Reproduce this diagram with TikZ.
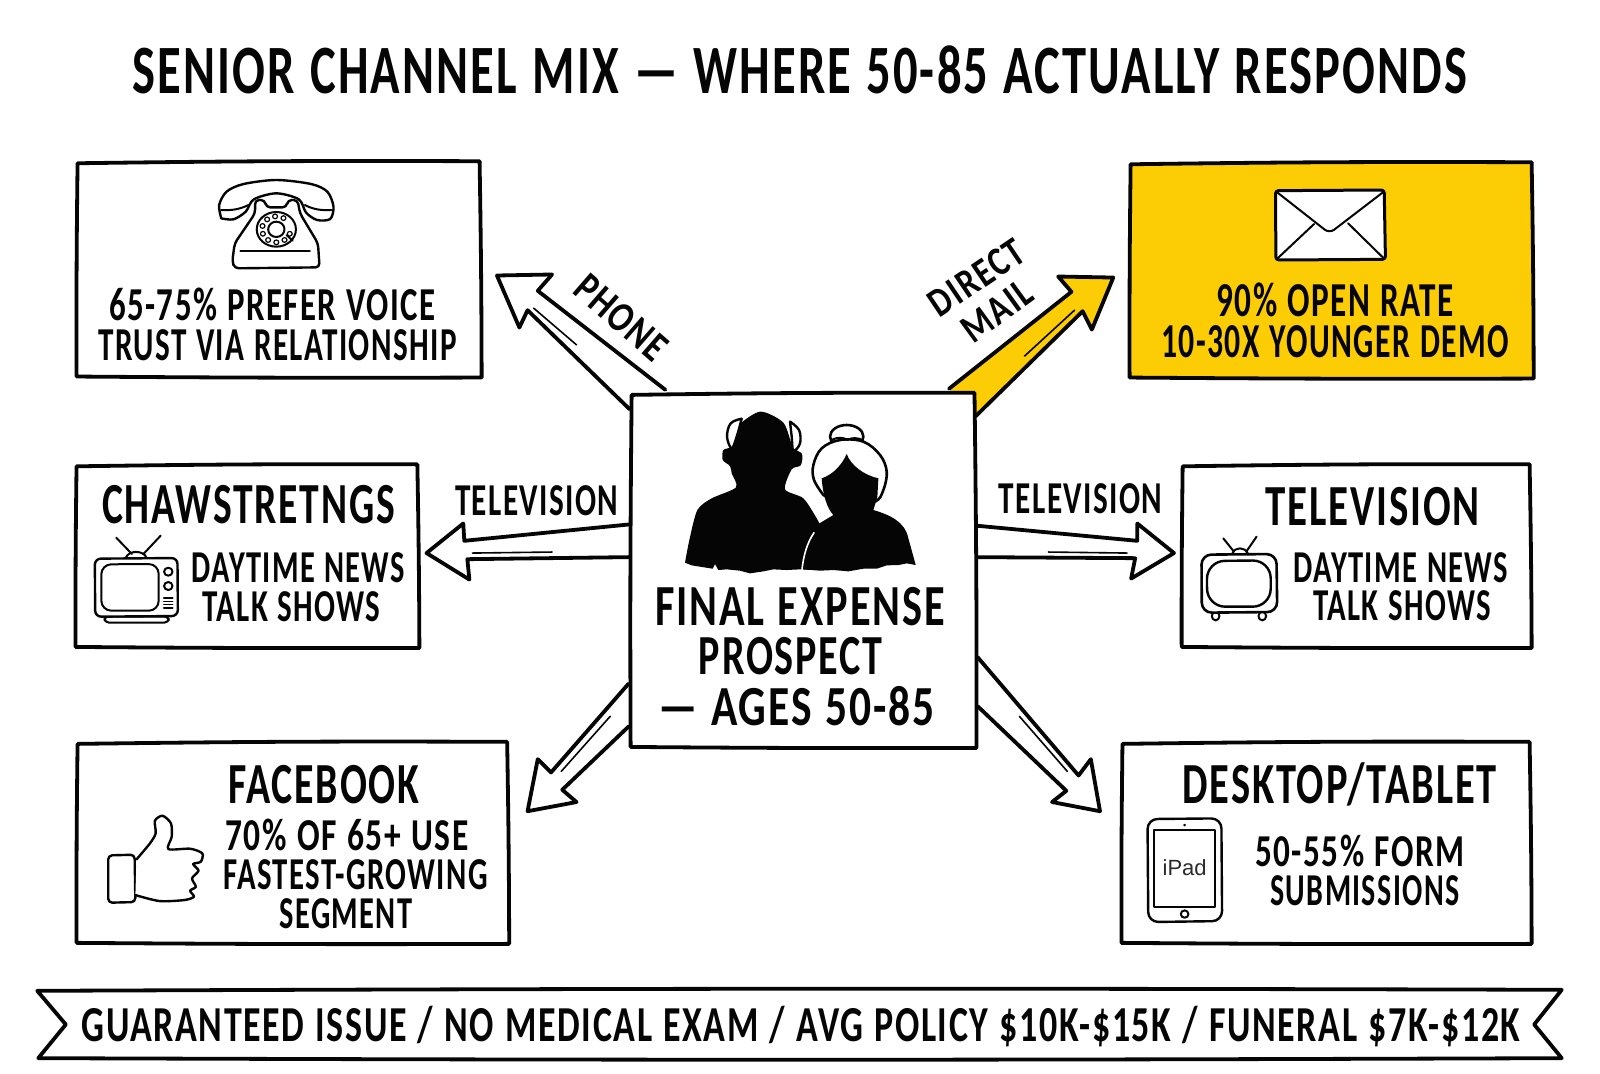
\documentclass[tikz,border=0pt]{standalone}
\usepackage{fontspec}
\usepackage{graphicx}
\usetikzlibrary{calc}
\newfontfamily\hand[LetterSpace=4.5,WordSpace=1.15]{Carlito}
\newfontfamily\plainsans{Liberation Sans}
\definecolor{inkyellow}{HTML}{FCCD05}
\definecolor{inkblack}{HTML}{050505}

% one drawing unit of the picture
\newlength{\uu}
\setlength{\uu}{0.5102pt}

% a line of lettering whose box is exactly as tall as its capitals
\newcommand\capbox[1]{\sbox0{\hand\bfseries H}\raisebox{0pt}[\ht0][0pt]{\hand\bfseries #1}}
% [rotation]{name}{x}{y}{width}{cap height}{text}
\newcommand\ink[7][0]{\node[inktext,rotate=#1] (#2) at (#3,#4) {\resizebox{#5\uu}{#6\uu}{\capbox{#7}}};}
% hand-ruled outline round a slot node
\newcommand\sketchbox[2]{%
  \draw[boxline,fill=#2]
    ($(#1.north west)+(1,2)$) to[bend left=.5] ($(#1.north east)+(-1,0)$)
    to[bend left=.4] ($(#1.south east)+(1,0)$)
    to[bend left=.3] ($(#1.south west)+(0,-1)$)
    to[bend left=.4] cycle;}

\tikzset{
  slot/.style={inner sep=0pt,outer sep=0pt,draw=none,fill=none},
  inktext/.style={inner sep=0pt,outer sep=0pt,text=inkblack},
  boxline/.style={draw=inkblack,line width=1.9pt,line join=round,line cap=round},
  arrowline/.style={draw=inkblack,line width=1.9pt,line join=round,line cap=round,fill=white},
  sheen/.style={draw=inkblack,line width=.8pt,line cap=round},
  iconline/.style={draw=inkblack,line width=1pt,line join=round,line cap=round},
  iconthin/.style={draw=inkblack,line width=.6pt,line cap=round},
}

\begin{document}
\begin{tikzpicture}[x=\uu,y=-\uu]
\useasboundingbox (0,0) rectangle (1568,1051.6);
\fill[white] (0,0) rectangle (1568,1051.6);

% layout slots for the hub and the six channels
\node[slot,minimum width=338\uu,minimum height=348\uu] (hub) at (787,559) {};
\node[slot,minimum width=396\uu,minimum height=212\uu] (phone) at (273,264) {};
\node[slot,minimum width=395\uu,minimum height=212\uu] (mail) at (1304.5,265) {};
\node[slot,minimum width=336\uu,minimum height=180\uu] (chaw) at (242,545) {};
\node[slot,minimum width=342\uu,minimum height=180\uu] (tv) at (1329,545) {};
\node[slot,minimum width=423\uu,minimum height=198\uu] (fb) at (286.5,826) {};
\node[slot,minimum width=401\uu,minimum height=198\uu] (tablet) at (1299.5,826) {};

% block arrows leaving the hub
\coordinate (phoneA) at ($(hub.north west)+(34,-3)$);
\coordinate (phoneB) at ($(hub.north west)+(-1,16)$);
\coordinate (phoneTip) at ($(phone.north east)+(16,112)$);
\draw[arrowline] (phoneA) -- ($(phoneTip)+(40,15)$) -- ($(phoneTip)+(54,-1)$) -- (phoneTip)
  -- ($(phoneTip)+(22,51)$) -- ($(phoneTip)+(30,34)$) -- (phoneB);
\draw[sheen] ($(phoneTip)+(36,32)$) -- ($(phoneTip)+(78,68)$);

\coordinate (mailA) at ($(hub.north east)+(-26,-4)$);
\coordinate (mailB) at ($(hub.north east)+(0,23)$);
\coordinate (mailTip) at ($(mail.north west)+(-16,113)$);
\draw[arrowline,fill=inkyellow] (mailA) -- ($(mailTip)+(-41,14)$) -- ($(mailTip)+(-54,-1)$) -- (mailTip)
  -- ($(mailTip)+(-21,51)$) -- ($(mailTip)+(-30,33)$) -- (mailB);
\draw[sheen] ($(mailTip)+(-87,77)$) -- ($(mailTip)+(-38,32)$);

\coordinate (leftA) at ($(hub.west)+(-2,-45)$);
\coordinate (leftB) at ($(hub.west)+(-2,-13)$);
\coordinate (leftTip) at ($(chaw.east)+(8,-3)$);
\draw[arrowline] (leftA) -- ($(leftTip)+(37,-12)$) -- ($(leftTip)+(36,-29)$) -- (leftTip)
  -- ($(leftTip)+(42,26)$) -- ($(leftTip)+(40,6)$) -- (leftB);
\draw[sheen] ($(leftTip)+(45,0)$) -- ($(leftTip)+(123,-1)$);

\coordinate (rightA) at ($(hub.east)+(-1,-44)$);
\coordinate (rightB) at ($(hub.east)+(-1,-13)$);
\coordinate (rightTip) at ($(tv.west)+(-7.5,-3)$);
\draw[arrowline] (rightA) -- ($(rightTip)+(-36,-12)$) -- ($(rightTip)+(-36,-29)$) -- (rightTip)
  -- ($(rightTip)+(-42,25)$) -- ($(rightTip)+(-38,5)$) -- (rightB);
\draw[sheen] ($(rightTip)+(-123,-1)$) -- ($(rightTip)+(-46,0)$);

\coordinate (fbA) at ($(hub.west)+(-2,111)$);
\coordinate (fbB) at ($(hub.west)+(-2,153)$);
\coordinate (fbTip) at ($(fb.north east)+(19,68)$);
\draw[arrowline] (fbA) -- ($(fbTip)+(23,-38)$) -- ($(fbTip)+(10,-51)$) -- (fbTip)
  -- ($(fbTip)+(48,-9)$) -- ($(fbTip)+(34,-21)$) -- (fbB);
\draw[sheen] ($(fbTip)+(81,-93)$) -- ($(fbTip)+(33,-39)$);

\coordinate (tabA) at ($(hub.east)+(2,85)$);
\coordinate (tabB) at ($(hub.east)+(2,133)$);
\coordinate (tabTip) at ($(tablet.north west)+(-21,68)$);
\draw[arrowline] (tabA) -- ($(tabTip)+(-21,-35)$) -- ($(tabTip)+(-9,-51)$) -- (tabTip)
  -- ($(tabTip)+(-47,-9)$) -- ($(tabTip)+(-33,-20)$) -- (tabB);
\draw[sheen] ($(tabTip)+(-79,-93)$) -- ($(tabTip)+(-32,-39)$);

% framed panels
\sketchbox{phone}{white}
\sketchbox{mail}{inkyellow}
\sketchbox{chaw}{white}
\sketchbox{tv}{white}
\sketchbox{fb}{white}
\sketchbox{tablet}{white}
\sketchbox{hub}{white}

% ribbon along the bottom
\node[slot,minimum width=1494\uu,minimum height=66\uu] (ribbon) at (783.5,1004) {};
\draw[boxline,fill=white]
  ($(ribbon.north west)+(0,0)$) to[bend left=.2] ($(ribbon.north east)+(0,-1)$)
  -- ($(ribbon.east)+(-27,0)$) -- ($(ribbon.south east)+(0,0)$)
  to[bend left=.2] ($(ribbon.south west)+(1,0)$) -- ($(ribbon.west)+(28,0)$) -- cycle;

% lettering
\ink{title}{784}{70}{1308}{44}{SENIOR CHANNEL MIX — WHERE 50-85 ACTUALLY RESPONDS}
\ink{pA}{267}{299}{320}{30}{65-75\% PREFER VOICE}
\ink{pB}{272}{338}{351}{30}{TRUST VIA RELATIONSHIP}
\ink{mA}{1308.5}{295}{233}{31}{90\% OPEN RATE}
\ink{mB}{1308.5}{335}{341}{31}{10-30X YOUNGER DEMO}
\ink{cA}{243.5}{495}{287}{37}{CHAWSTRETNGS}
\ink{cB}{292.5}{556}{209}{29}{DAYTIME NEWS}
\ink{cC}{285.5}{595}{175}{29}{TALK SHOWS}
\ink{tA}{1345}{496}{210}{37}{TELEVISION}
\ink{tB}{1373}{556}{210}{29}{DAYTIME NEWS}
\ink{tC}{1374}{594}{174}{29}{TALK SHOWS}
\ink{tvL}{526}{491}{160}{29}{TELEVISION}
\ink{tvR}{1059}{489}{160}{29}{TELEVISION}
\ink{fA}{317.5}{769}{187}{37}{FACEBOOK}
\ink{fB}{340}{819}{238}{29}{70\% OF 65+ USE}
\ink{fC}{348.5}{857.5}{259}{29}{FASTEST-GROWING}
\ink{fD}{339}{895}{130}{29}{SEGMENT}
\ink{dA}{1313}{769}{308}{37}{DESKTOP/TABLET}
\ink{dB}{1332.5}{835}{205}{29}{50-55\% FORM}
\ink{dC}{1337.5}{873}{185}{29}{SUBMISSIONS}
\ink{hA}{784}{594}{284}{37}{FINAL EXPENSE}
\ink{hB}{775}{643}{180}{36}{PROSPECT}
\ink{hC}{780.5}{692.5}{271}{36}{— AGES 50-85}
\ink{bn}{785}{1005}{1410}{32}{GUARANTEED ISSUE / NO MEDICAL EXAM / AVG POLICY \$10K-\$15K / FUNERAL \$7K-\$12K}
\ink[-41]{lbPhone}{609}{311}{106}{27}{PHONE}
\ink[34]{lbDirect}{957}{272}{104}{26}{DIRECT}
\ink[36]{lbMail}{977}{305}{76}{26}{MAIL}

% rotary telephone
\begin{scope}[shift={(58.8,147)},xscale=.4,yscale=.3267]
  \draw[iconline,line width=1.2pt,fill=white] plot[smooth,tension=.5] coordinates
    {(395,205)(390,165)(408,125)(450,102)(530,90)(615,102)(655,125)(670,170)(662,207)(630,210)(603,188)(585,148)(530,130)(475,148)(455,185)(425,208)(395,205)};
  \draw[iconline] (395,180) .. controls (420,182) and (440,178) .. (462,165);
  \draw[iconline] (665,180) .. controls (640,182) and (620,178) .. (600,165);
  \draw[iconline,line width=1.2pt,fill=white,rounded corners=2pt]
    (478,150) -- (502,150) -- (505,172) -- (555,172) -- (558,150) -- (582,150)
    -- (588,190) -- (632,280) -- (636,352) -- (428,355) -- (422,335) -- (428,280) -- (478,190) -- cycle;
  \draw[iconline] (530,238) ellipse [x radius=48,y radius=52];
  \draw[iconline] (530,238) ellipse [x radius=20,y radius=23];
  \foreach \a in {60,95,130,165,200,235,270,305,340}
    \draw[iconthin] ($(530,238)+({35*cos(\a)},{-39*sin(\a)})$) ellipse [x radius=6,y radius=7];
  \draw[iconline] (555,255) -- (570,272);
  \draw[iconline] (442,303) -- (612,303);
\end{scope}

% envelope
\begin{scope}[shift={(882,147)},xscale=.4066,yscale=.3267]
  \draw[iconline,line width=1.5pt,fill=white,rounded corners=1.5pt] (905,122) -- (1167,120) -- (1170,328) -- (906,330) -- cycle;
  \draw[iconline,rounded corners=3pt] (907,125) -- (1035,250) -- (1166,125);
  \draw[iconline] (910,325) -- (998,222);
  \draw[iconline] (1166,325) -- (1080,220);
\end{scope}

% portable television in the left panel
\begin{scope}[shift={(58.8,441)},xscale=.375,yscale=.3267]
  \draw[iconline] (147,263) -- (188,312);
  \draw[iconline] (263,257) -- (218,312);
  \draw[iconline] (172,323) .. controls (180,300) and (218,300) .. (226,323);
  \draw[iconline,fill=white,rounded corners=2pt] (115,500) -- (285,500) -- (283,518) -- (118,518) -- cycle;
  \draw[iconline,line width=1.2pt,fill=white,rounded corners=3pt] (91,326) -- (307,324) -- (308,498) -- (92,500) -- cycle;
  \draw[iconline,rounded corners=5pt] (108,343) -- (258,342) -- (258,482) -- (108,482) -- cycle;
  \draw[iconline] (283,365) ellipse [x radius=11,y radius=12];
  \draw[iconline] (283,408) ellipse [x radius=11,y radius=12];
  \foreach \yy in {444,454,464,474} \draw[iconthin] (271,\yy) -- (295,\yy);
\end{scope}

% portable television in the right panel
\begin{scope}[shift={(940.8,441)},xscale=.375,yscale=.3267]
  \draw[iconline] (688,265) -- (716,305);
  \draw[iconline] (775,260) -- (748,305);
  \draw[iconline] (712,310) .. controls (718,290) and (745,290) .. (752,310);
  \draw[iconline,fill=white] (668,498) ellipse [x radius=10,y radius=13];
  \draw[iconline,fill=white] (790,498) ellipse [x radius=10,y radius=13];
  \draw[iconline,line width=1.3pt,fill=white,rounded corners=5pt] (631,314) -- (827,312) -- (829,486) -- (632,488) -- cycle;
  \draw[iconline,line width=1.2pt,rounded corners=9pt] (645,333) -- (812,331) -- (812,470) -- (646,470) -- cycle;
\end{scope}

% thumbs-up
\begin{scope}[shift={(58.8,441)},xscale=.375,yscale=.3267]
  \draw[iconline,line width=1.2pt,fill=white,rounded corners=2pt] (126,1216) -- (195,1214) -- (197,1356) -- (126,1358) -- cycle;
  \draw[iconline,line width=1.2pt,fill=white] plot[smooth,tension=.45] coordinates
    {(200,1228)(235,1180)(250,1150)(248,1112)(268,1097)(290,1120)(292,1160)(283,1197)(340,1196)(372,1210)(368,1235)(348,1242)(362,1262)(345,1285)(355,1310)(340,1322)(350,1340)(325,1350)(260,1353)(197,1335)};
\end{scope}

% tablet
\begin{scope}[shift={(940.8,441)},xscale=.375,yscale=.3267]
  \draw[iconline,line width=1.2pt,rounded corners=5pt] (490,1107) -- (683,1105) -- (685,1413) -- (492,1416) -- cycle;
  \draw[iconline] (507,1141) -- (667,1141) -- (667,1370) -- (507,1370) -- cycle;
  \fill[inkblack] (587,1125) ellipse [x radius=4,y radius=4];
  \draw[iconline] (587,1392) ellipse [x radius=10,y radius=11];
  \node[inktext,font=\plainsans\fontsize{11}{12}\selectfont,text=inkblack!85] (ipadLabel) at (587,1252) {iPad};
\end{scope}

% silhouettes of the couple
\begin{scope}[shift={(588,372.4)},scale=.3267]
  \fill[inkblack] plot[smooth,tension=.45] coordinates
    {(255,548)(268,480)(292,390)(335,355)(408,322)(395,280)(390,258)(368,240)(370,210)(396,198)(412,140)(480,95)(550,128)(578,200)(606,222)(602,256)(575,268)(555,328)(610,355)(650,415)(665,445)}
    -- plot[sharp plot] coordinates
    {(640,570)(600,568)(560,570)(520,568)(490,574)(450,580)(420,572)(380,568)(355,570)(345,552)(338,566)(300,560)(275,556)(255,548)} -- cycle;
  % the man's hair
  \draw[iconline,line width=1.2pt,fill=white] plot[smooth,tension=.6] coordinates {(425,116)(392,130)(381,170)(395,205)(410,170)(425,116)};
  \draw[iconline,line width=1.2pt,fill=white] plot[smooth,tension=.6] coordinates {(570,125)(597,150)(600,190)(580,212)(575,170)(570,125)};
  % bun and hair of the woman
  \draw[iconline,line width=1.3pt,fill=white] (740,170) ellipse [x radius=50,y radius=35];
  \draw[iconline,line width=1.3pt,fill=white] plot[smooth,tension=.6] coordinates
    {(670,345)(642,300)(640,255)(665,205)(720,180)(790,185)(840,225)(860,275)(850,330)(825,365)(750,380)(670,345)};
  \draw[iconline] (695,180) .. controls (715,170) and (730,172) .. (742,180) .. controls (755,172) and (775,172) .. (790,182);
  \fill[inkblack] (665,295) .. controls (700,283) and (725,255) .. (740,222)
    .. controls (752,255) and (790,285) .. (835,295) -- (832,350) -- (820,390)
    .. controls (870,405) and (915,425) .. (925,475) -- (947,555)
    -- plot[sharp plot] coordinates {(920,550)(895,555)(860,556)(830,566)(790,566)(745,574)(700,570)(660,572)(612,568)}
    .. controls (612,500) and (625,450) .. (655,432) -- (700,405) .. controls (680,385) and (668,340) .. (665,295) -- cycle;
  \draw[white,line width=.8pt,line cap=round] (642,458) .. controls (620,490) and (610,530) .. (606,568);
\end{scope}
\end{tikzpicture}
\end{document}
